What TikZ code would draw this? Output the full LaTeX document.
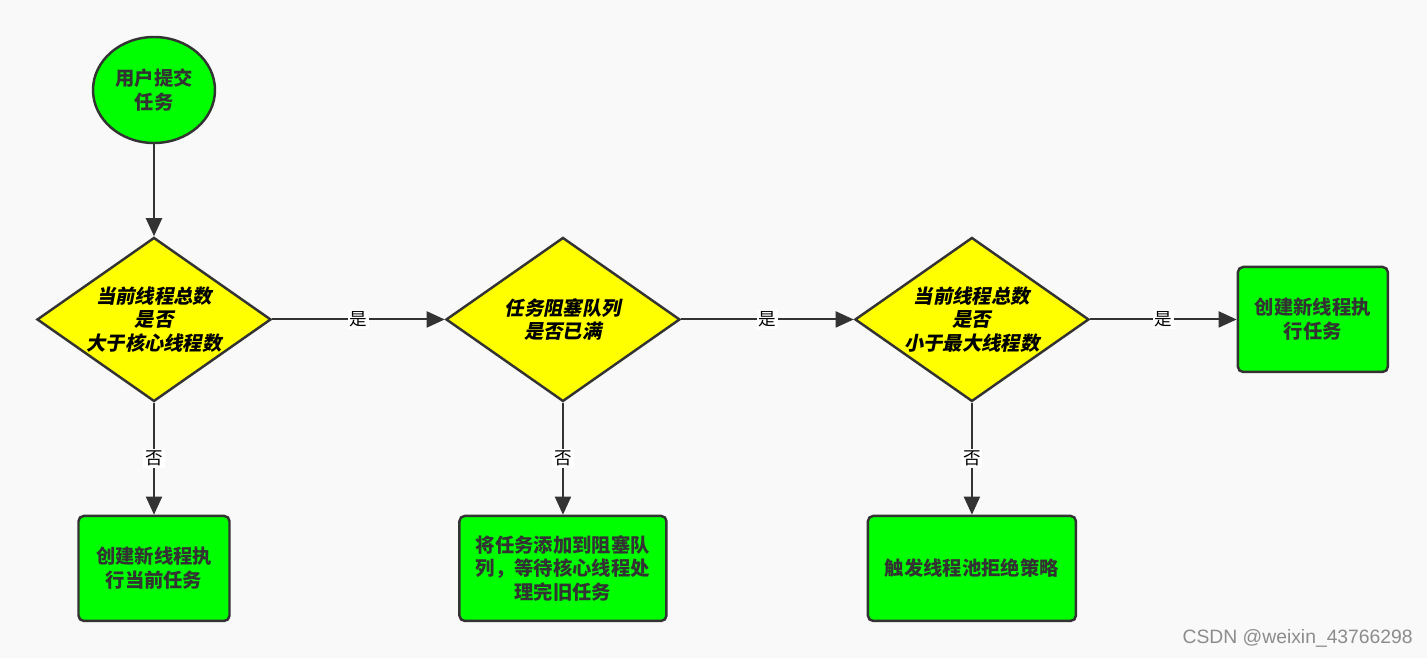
\documentclass[tikz,border=0pt]{standalone}
\usepackage{fontspec}
\setmainfont{Noto Sans CJK SC}
\newfontfamily\tpslant{Noto Sans CJK SC}[FakeSlant=0.2]
\newfontfamily\wmfont{Liberation Sans}
\usepackage{tikz}
\usetikzlibrary{arrows.meta,positioning,shapes.geometric}
\usepackage{xcolor}
\definecolor{tpline}{HTML}{333333}
\definecolor{tpgreen}{HTML}{00FF00}
\definecolor{tpyellow}{HTML}{FFFF00}
\definecolor{tpbg}{HTML}{F9F9F9}
\tikzset{
  tpstart/.style={draw=tpline, line width=1.4pt, ellipse, fill=tpgreen, text=tpline,
    minimum width=2.44cm, minimum height=2.12cm, inner sep=0pt, align=center,
    font=\fontsize{11}{13.6}\selectfont\bfseries},
  tpdecide/.style={draw=tpline, line width=1.4pt, diamond, fill=tpyellow, aspect=1.43,
    minimum width=4.68cm, minimum height=3.28cm, inner sep=0pt, align=center,
    font=\tpslant\fontsize{11}{13.4}\selectfont\bfseries},
  tpbox/.style={draw=tpline, line width=1.4pt, rectangle, rounded corners=3pt, fill=tpgreen,
    text=tpline, minimum height=2.1cm, inner sep=2pt, align=center,
    font=\fontsize{11}{13.6}\selectfont\bfseries},
  tparrow/.style={-{Triangle[length=3.6mm, width=3.2mm]}, draw=tpline, fill=tpline, line width=1.1pt},
  tplabel/.style={font=\fontsize{10}{11}\selectfont, fill=white, inner sep=1pt, midway},
}

\begin{document}
\begin{tikzpicture}
  % Canvas
  \fill[tpbg] (0,0) rectangle (28.54,-13.16);
  \useasboundingbox (0,0) rectangle (28.54,-13.16);

  % Start and decisions
  \node[tpstart] (start) at (3.08,-1.80) {用户提交\\任务};
  \node[tpdecide, below=1.84cm of start] (core) {当前线程总数\\是否\\大于核心线程数};
  \node[tpdecide, right=3.45cm of core] (queue) {任务阻塞队列\\是否已满};
  \node[tpdecide, right=3.45cm of queue] (max) {当前线程总数\\是否\\小于最大线程数};

  % Actions
  \node[tpbox, minimum width=3.0cm, right=2.93cm of max] (newtask) {创建新线程执\\行任务};
  \node[tpbox, minimum width=3.02cm, below=2.24cm of core] (newcore) {创建新线程执\\行当前任务};
  \node[tpbox, minimum width=4.14cm, below=2.24cm of queue] (enqueue) {将任务添加到阻塞队\\列，等待核心线程处\\理完旧任务};
  \node[tpbox, minimum width=4.16cm, below=2.24cm of max] (reject) {触发线程池拒绝策略};

  % Flow
  \draw[tparrow] (start) -- (core);
  \draw[tparrow] (core) -- node[tplabel] {是} (queue);
  \draw[tparrow] (queue) -- node[tplabel] {是} (max);
  \draw[tparrow] (max) -- node[tplabel] {是} (newtask);
  \draw[tparrow] (core) -- node[tplabel] {否} (newcore);
  \draw[tparrow] (queue) -- node[tplabel] {否} (enqueue);
  \draw[tparrow] (max) -- node[tplabel] {否} (reject);

  % Watermark
  \node[anchor=east, text=black!45, font=\wmfont\fontsize{11}{12}\selectfont] (wm) at (28.38,-12.76) {CSDN @weixin\_43766298};
\end{tikzpicture}
\end{document}
